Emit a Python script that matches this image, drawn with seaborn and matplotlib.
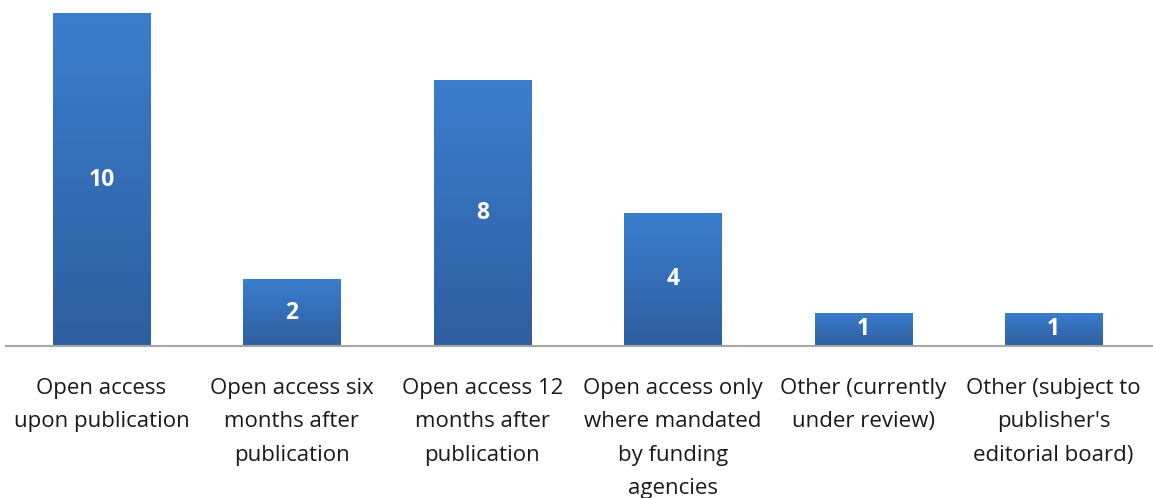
import matplotlib
matplotlib.use("Agg")
import matplotlib.pyplot as plt
import numpy as np
import pandas as pd
import seaborn as sns
from matplotlib.colors import LinearSegmentedColormap

categories = [
    "Open access\nupon publication",
    "Open access six\nmonths after\npublication",
    "Open access 12\nmonths after\npublication",
    "Open access only\nwhere mandated\nby funding\nagencies",
    "Other (currently\nunder review)",
    "Other (subject to\npublisher's\neditorial board)",
]
counts = [10, 2, 8, 4, 1, 1]

df = pd.DataFrame({"policy": categories, "count": counts})

sns.set_theme(style="white")
plt.rcParams["font.family"] = ["Open Sans", "DejaVu Sans"]

fig = plt.figure(figsize=(11.53, 4.98), dpi=100)
ax = fig.add_axes([0.0055, 0.305, 0.9945, 0.669])

sns.barplot(data=df, x="policy", y="count", color="#3570BA", width=0.51,
            saturation=1, ax=ax)

# vertical blue gradient clipped to each bar
grad_cmap = LinearSegmentedColormap.from_list("bar", ["#2E5E9F", "#3B7ECE"])
grad = np.linspace(0, 1, 256).reshape(-1, 1)
for patch in ax.patches:
    x0, y0 = patch.get_x(), patch.get_y()
    w, h = patch.get_width(), patch.get_height()
    im = ax.imshow(grad, cmap=grad_cmap, origin="lower", aspect="auto",
                   extent=[x0, x0 + w, y0, y0 + h], zorder=patch.get_zorder() + 0.1)
    im.set_clip_path(patch)

for patch, v in zip(ax.patches, counts):
    ax.text(patch.get_x() + patch.get_width() / 2, v / 2, str(v),
            ha="center", va="center", color="white", fontsize=16.5,
            fontweight="bold", zorder=5)

ax.set_xlim(-0.5, len(categories) - 0.477)
ax.set_ylim(0, 10)
ax.set_xlabel("")
ax.set_ylabel("")
ax.set_yticks([])
ax.tick_params(axis="x", length=0, pad=23, labelsize=16, colors="#1a1a1a")
for lbl in ax.get_xticklabels():
    lbl.set_multialignment("center")
    lbl.set_linespacing(1.77)
for side in ["top", "left", "right"]:
    ax.spines[side].set_visible(False)
ax.spines["bottom"].set_color("#A6A6A6")
ax.spines["bottom"].set_linewidth(1.5)

fig.savefig("out.png", dpi=100, facecolor="white")
